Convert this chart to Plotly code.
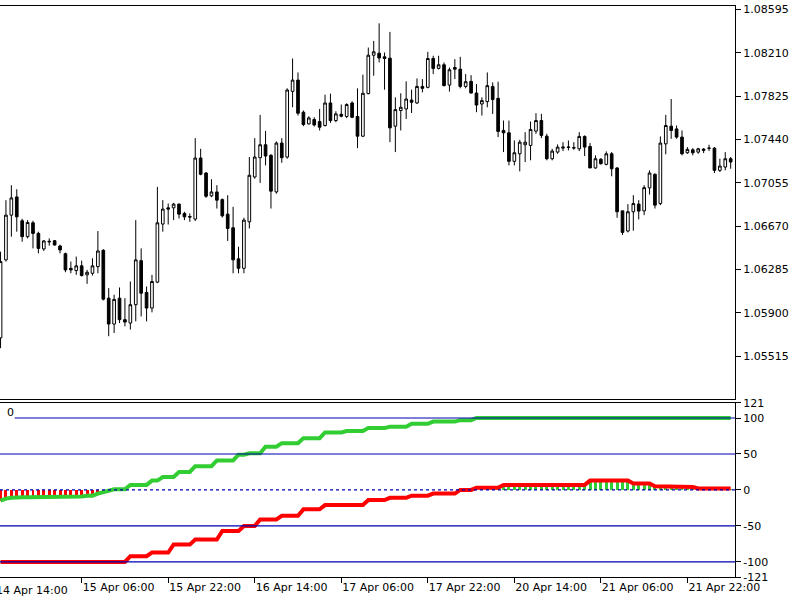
import plotly.graph_objects as go

# ---------------- data (EURUSD H1, bars indexed from 14 Apr 14:00 = 0) ----------------
bar_index = list(range(1, 137))

opens = [1.05678, 1.06371, 1.06768, 1.06930, 1.06718, 1.06577, 1.06700, 1.06606, 1.06468, 1.06530,
         1.06541, 1.06494, 1.06426, 1.06296, 1.06276, 1.06318, 1.06238, 1.06252, 1.06311, 1.06456,
         1.06031, 1.05801, 1.06031, 1.05840, 1.05810, 1.05973, 1.06364, 1.06082, 1.05943, 1.06173,
         1.06689, 1.06833, 1.06833, 1.06866, 1.06783, 1.06756, 1.06733, 1.07275, 1.07142, 1.06939,
         1.06974, 1.06906, 1.06777, 1.06656, 1.06380, 1.06296, 1.06709, 1.07107, 1.07278, 1.07393,
         1.07299, 1.06974, 1.07408, 1.07284, 1.07867, 1.07967, 1.07682, 1.07578, 1.07617, 1.07599,
         1.07564, 1.07764, 1.07608, 1.07664, 1.07644, 1.07764, 1.07644, 1.07469, 1.07847, 1.08188,
         1.08206, 1.08174, 1.08162, 1.07558, 1.07697, 1.07711, 1.07790, 1.07764, 1.07911, 1.07903,
         1.08159, 1.08071, 1.08103, 1.07923, 1.08079, 1.08064, 1.07911, 1.07956, 1.07852, 1.07755,
         1.07776, 1.07911, 1.07805, 1.07520, 1.07499, 1.07246, 1.07313, 1.07393, 1.07387, 1.07514,
         1.07608, 1.07469, 1.07269, 1.07328, 1.07363, 1.07370, 1.07363, 1.07357, 1.07467, 1.07378,
         1.07187, 1.07264, 1.07219, 1.07313, 1.07187, 1.06806, 1.06627, 1.06798, 1.06866, 1.06806,
         1.07010, 1.07131, 1.06871, 1.07401, 1.07558, 1.07534, 1.07461, 1.07322, 1.07348, 1.07328,
         1.07355, 1.07361, 1.07363, 1.07166, 1.07195, 1.07269]

highs = [1.06444, 1.06901, 1.07034, 1.06998, 1.06736, 1.06724, 1.06718, 1.06621, 1.06547, 1.06562,
         1.06547, 1.06506, 1.06435, 1.06356, 1.06400, 1.06364, 1.06282, 1.06385, 1.06627, 1.06466,
         1.06120, 1.06061, 1.06126, 1.06031, 1.06179, 1.06724, 1.06473, 1.06135, 1.06238, 1.07019,
         1.06901, 1.06871, 1.06877, 1.06871, 1.06798, 1.06783, 1.07452, 1.07357, 1.07151, 1.07087,
         1.07034, 1.06917, 1.06945, 1.06842, 1.06488, 1.06745, 1.07284, 1.07452, 1.07658, 1.07516,
         1.07310, 1.07423, 1.07452, 1.07894, 1.08159, 1.08035, 1.07697, 1.07646, 1.07637, 1.07711,
         1.07838, 1.07847, 1.07690, 1.07750, 1.07761, 1.07779, 1.07894, 1.08015, 1.08256, 1.08315,
         1.08471, 1.08212, 1.08395, 1.07814, 1.07850, 1.07956, 1.07882, 1.07982, 1.07976, 1.08218,
         1.08183, 1.08183, 1.08124, 1.08079, 1.08153, 1.08174, 1.08020, 1.08011, 1.07932, 1.07814,
         1.08035, 1.07947, 1.07953, 1.07608, 1.07608, 1.07431, 1.07437, 1.07505, 1.07599, 1.07673,
         1.07667, 1.07490, 1.07357, 1.07396, 1.07416, 1.07431, 1.07416, 1.07505, 1.07476, 1.07408,
         1.07299, 1.07275, 1.07334, 1.07328, 1.07195, 1.06806, 1.06866, 1.06945, 1.06901, 1.07034,
         1.07166, 1.07138, 1.07467, 1.07658, 1.07799, 1.07564, 1.07520, 1.07372, 1.07363, 1.07366,
         1.07363, 1.07393, 1.07372, 1.07269, 1.07328, 1.07284]

lows = [1.05587, 1.06356, 1.06577, 1.06621, 1.06532, 1.06562, 1.06473, 1.06429, 1.06450, 1.06497,
        1.06497, 1.06429, 1.06261, 1.06252, 1.06238, 1.06223, 1.06158, 1.06232, 1.06252, 1.06011,
        1.05693, 1.05722, 1.05810, 1.05781, 1.05752, 1.05825, 1.05869, 1.05825, 1.05905, 1.06164,
        1.06621, 1.06685, 1.06724, 1.06738, 1.06724, 1.06709, 1.06715, 1.07122, 1.06921, 1.06928,
        1.06827, 1.06747, 1.06539, 1.06252, 1.06252, 1.06252, 1.06650, 1.07092, 1.07054, 1.07210,
        1.06827, 1.06959, 1.07233, 1.07269, 1.07726, 1.07652, 1.07558, 1.07573, 1.07555, 1.07520,
        1.07555, 1.07587, 1.07593, 1.07637, 1.07629, 1.07629, 1.07363, 1.07461, 1.07841, 1.08006,
        1.08124, 1.07882, 1.07416, 1.07328, 1.07520, 1.07622, 1.07675, 1.07755, 1.07858, 1.07894,
        1.08020, 1.08062, 1.07911, 1.07865, 1.07976, 1.07894, 1.07894, 1.07850, 1.07682, 1.07652,
        1.07726, 1.07667, 1.07461, 1.07328, 1.07210, 1.07210, 1.07157, 1.07240, 1.07255, 1.07490,
        1.07452, 1.07255, 1.07255, 1.07313, 1.07337, 1.07343, 1.07348, 1.07337, 1.07293, 1.07187,
        1.07180, 1.07216, 1.07210, 1.07113, 1.06745, 1.06592, 1.06615, 1.06630, 1.06730, 1.06768,
        1.06951, 1.06827, 1.06857, 1.07308, 1.07446, 1.07446, 1.07299, 1.07313, 1.07299, 1.07313,
        1.07319, 1.07337, 1.07142, 1.07151, 1.07166, 1.07180]

closes = [1.06356, 1.06768, 1.06921, 1.06753, 1.06577, 1.06703, 1.06606, 1.06473, 1.06539, 1.06535,
          1.06503, 1.06459, 1.06282, 1.06282, 1.06318, 1.06232, 1.06261, 1.06318, 1.06450, 1.06022,
          1.05801, 1.06020, 1.05840, 1.05819, 1.05973, 1.06371, 1.06075, 1.05943, 1.06179, 1.06700,
          1.06822, 1.06822, 1.06866, 1.06777, 1.06753, 1.06751, 1.07275, 1.07131, 1.06936, 1.06974,
          1.06901, 1.06762, 1.06650, 1.06371, 1.06296, 1.06724, 1.07122, 1.07284, 1.07393, 1.07293,
          1.06981, 1.07408, 1.07278, 1.07879, 1.07967, 1.07673, 1.07573, 1.07631, 1.07569, 1.07549,
          1.07764, 1.07608, 1.07667, 1.07646, 1.07750, 1.07637, 1.07469, 1.07850, 1.08188, 1.08218,
          1.08163, 1.08159, 1.07543, 1.07705, 1.07726, 1.07799, 1.07770, 1.07911, 1.07894, 1.08159,
          1.08071, 1.08103, 1.07918, 1.08059, 1.08064, 1.07911, 1.07953, 1.07852, 1.07746, 1.07785,
          1.07918, 1.07794, 1.07511, 1.07499, 1.07246, 1.07322, 1.07416, 1.07416, 1.07529, 1.07608,
          1.07476, 1.07269, 1.07337, 1.07372, 1.07372, 1.07372, 1.07368, 1.07467, 1.07372, 1.07187,
          1.07269, 1.07225, 1.07313, 1.07180, 1.06798, 1.06615, 1.06798, 1.06871, 1.06804, 1.07012,
          1.07142, 1.06857, 1.07408, 1.07564, 1.07520, 1.07461, 1.07313, 1.07352, 1.07322, 1.07357,
          1.07343, 1.07363, 1.07166, 1.07204, 1.07269, 1.07240]

# indicator (upper / green line and lower / red line), one value per bar
green_line = [-15, -12, -11, -10, -10, -10, -10, -10, -10, -10,
              -10, -10, -9, -9, -9, -9, -8, -8, -5, -3,
              -1, 1, 1, 1, 7, 7, 7, 7, 13, 13,
              18, 18, 18, 25, 25, 25, 33, 33, 33, 33,
              41, 41, 41, 41, 49, 49, 51, 51, 51, 60,
              60, 60, 65, 65, 65, 65, 72, 72, 72, 72,
              80, 80, 80, 80, 82, 82, 82, 82, 86, 86,
              86, 86, 88, 88, 88, 88, 92, 92, 92, 92,
              95, 95, 95, 95, 95, 97, 97, 97, 100, 100,
              100, 100, 100, 100, 100, 100, 100, 100, 100, 100,
              100, 100, 100, 100, 100, 100, 100, 100, 100, 100,
              100, 100, 100, 100, 100, 100, 100, 100, 100, 100,
              100, 100, 100, 100, 100, 100, 100, 100, 100, 100,
              100, 100, 100, 100, 100, 100]

red_line = [-100, -100, -100, -100, -100, -100, -100, -100, -100, -100,
            -100, -100, -100, -100, -100, -100, -100, -100, -100, -100,
            -100, -100, -100, -100, -92, -92, -92, -92, -87, -87,
            -87, -87, -76, -76, -76, -76, -69, -69, -69, -69,
            -69, -57, -57, -57, -57, -50, -50, -50, -41, -41,
            -41, -41, -36, -36, -36, -36, -27, -27, -27, -27,
            -21, -21, -21, -21, -21, -21, -21, -21, -14, -14,
            -14, -14, -11, -11, -11, -11, -8, -8, -8, -8,
            -5, -5, -5, -5, -5, 0, 0, 0, 3, 3,
            3, 3, 3, 7, 7, 7, 7, 7, 7, 7,
            7, 7, 7, 7, 7, 7, 7, 7, 7, 13,
            13, 13, 13, 13, 13, 13, 13, 9, 9, 9,
            9, 5, 5, 5, 5, 4, 4, 4, 4, 2,
            2, 2, 2, 2, 2, 2]

# histogram bars drawn from 0 toward the line nearest to zero
hist_red_index = bar_index[:21]
hist_red = green_line[:21]
hist_green_index = bar_index[88:]
hist_green = red_line[88:]

levels = [100, 50, -50, -100]

price_ticks = [1.05515, 1.05900, 1.06285, 1.06670, 1.07055, 1.07440, 1.07825, 1.08210, 1.08595]
ind_ticks = [-121, -100, -50, 0, 50, 100, 121]
time_tick_index = [0, 16, 32, 48, 64, 80, 96, 112, 128]
time_tick_labels = ["14 Apr 14:00", "15 Apr 06:00", "15 Apr 22:00", "16 Apr 14:00", "17 Apr 06:00",
                    "17 Apr 22:00", "20 Apr 14:00", "21 Apr 06:00", "21 Apr 22:00"]

# ---------------- figure ----------------
X_RANGE = [0.9, 136.8]
GREEN = "#32CD32"
RED = "#FF0000"
LEVEL = "#0000B4"
FONT = dict(family="DejaVu Sans", size=11, color="black")

fig = go.Figure()

fig.add_trace(go.Candlestick(
    x=bar_index, open=opens, high=highs, low=lows, close=closes,
    increasing=dict(line=dict(color="black", width=1), fillcolor="white"),
    decreasing=dict(line=dict(color="black", width=1), fillcolor="black"),
    whiskerwidth=0, xaxis="x", yaxis="y", showlegend=False, hoverinfo="skip"))

fig.add_trace(go.Bar(x=hist_red_index, y=hist_red, base=0, width=0.55,
                     marker=dict(color=RED, line=dict(width=0)),
                     xaxis="x2", yaxis="y2", showlegend=False, hoverinfo="skip"))
fig.add_trace(go.Bar(x=hist_green_index, y=hist_green, base=0, width=0.55,
                     marker=dict(color=GREEN, line=dict(width=0)),
                     xaxis="x2", yaxis="y2", showlegend=False, hoverinfo="skip"))

fig.add_trace(go.Scatter(x=bar_index, y=green_line, mode="lines",
                         line=dict(color=GREEN, width=4),
                         xaxis="x2", yaxis="y2", showlegend=False, hoverinfo="skip"))
fig.add_trace(go.Scatter(x=bar_index, y=red_line, mode="lines",
                         line=dict(color=RED, width=4),
                         xaxis="x2", yaxis="y2", showlegend=False, hoverinfo="skip"))

shapes = []
for lv in levels:
    # the top level line starts right of the indicator's "0" caption
    start = 0.02 if lv == levels[0] else 0
    shapes.append(dict(type="line", xref="x2 domain", x0=start, x1=1, yref="y2", y0=lv, y1=lv,
                       line=dict(color=LEVEL, width=1.2), layer="above"))
shapes.append(dict(type="line", xref="x2 domain", x0=0, x1=1, yref="y2", y0=0, y1=0,
                   line=dict(color=LEVEL, width=1.2, dash="3px,3px"), layer="above"))

annotations = [
    dict(text="0", xref="paper", yref="paper", x=0.007, y=0.2875, xanchor="left", yanchor="middle",
         showarrow=False, font=FONT),
    dict(text=time_tick_labels[0], xref="paper", yref="paper",
         x=(time_tick_index[0] - X_RANGE[0]) / (X_RANGE[1] - X_RANGE[0]), y=0,
         xanchor="left", yanchor="top", yshift=-5, xshift=-1, showarrow=False, font=FONT),
]

axis_common = dict(showgrid=False, zeroline=False, linecolor="black", linewidth=1,
                   tickcolor="black", tickfont=FONT)

fig.update_layout(
    width=800, height=600,
    margin=dict(l=0, r=65, t=3, b=23),
    paper_bgcolor="white", plot_bgcolor="white",
    font=FONT, showlegend=False, barmode="overlay", bargap=0, hovermode=False,
    xaxis=dict(domain=[0, 1], anchor="y", range=X_RANGE, showline=True, mirror=True,
               showticklabels=False, ticks="", rangeslider=dict(visible=False), matches="x2",
               **axis_common),
    yaxis=dict(domain=[0.3118, 1], anchor="x", range=[1.05136, 1.08625], side="right",
               tickvals=price_ticks, ticktext=[f"{v:.5f}" for v in price_ticks],
               ticks="outside", ticklen=5, showline=True, **axis_common),
    xaxis2=dict(domain=[0, 1], anchor="y2", range=X_RANGE, showline=True, mirror=True,
                tickvals=time_tick_index[1:], ticktext=time_tick_labels[1:],
                ticks="outside", ticklen=5, ticklabelposition="outside right", **axis_common),
    yaxis2=dict(domain=[0, 0.3049], anchor="x2", range=[-121, 121], side="right",
                tickvals=ind_ticks, ticktext=[str(v) for v in ind_ticks],
                ticks="outside", ticklen=5, showline=True, **axis_common),
    shapes=shapes, annotations=annotations,
)

fig.write_html("out.html", config={"displayModeBar": False, "staticPlot": True},
               post_script="document.body.style.margin='0';document.body.style.overflow='hidden';")
